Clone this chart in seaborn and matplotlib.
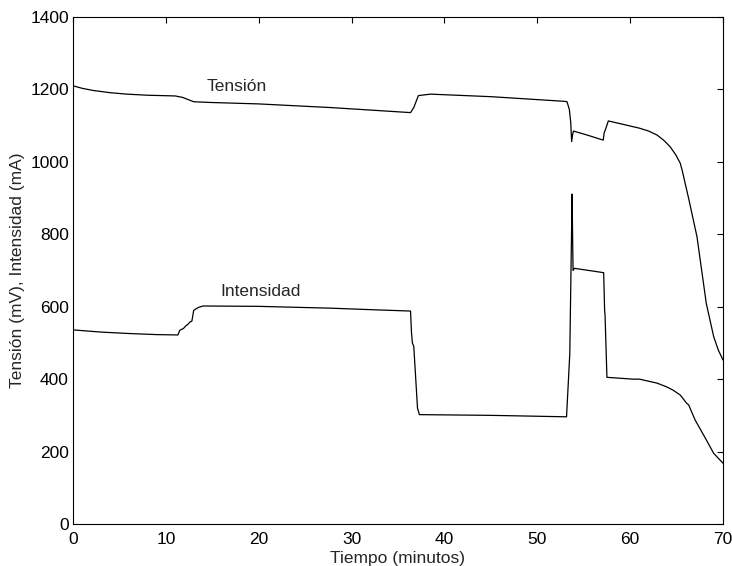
import numpy as np
import pandas as pd
import matplotlib
matplotlib.use("Agg")
import matplotlib.pyplot as plt
import seaborn as sns

# Tensión (mV) vs tiempo (min)
t_tension = [0, 1, 2.2, 4, 5.8, 8, 11.0, 11.8, 12.4, 13.0, 14.8, 20, 27.7, 36.35, 36.45,
             36.7, 37.0, 37.2, 38.5, 45, 53.0, 53.2, 53.45, 53.6, 53.7, 53.8, 53.9, 55.5,
             57.1, 57.2, 57.35, 57.65, 59, 61.0, 62.0, 62.9, 63.6, 64.3, 64.9, 65.4, 65.6,
             66.3, 67.2, 68.2, 69.0, 69.5, 70.0]
v_tension = [1210, 1203, 1197, 1191, 1187, 1184, 1182, 1178, 1172, 1166, 1164, 1160, 1150,
             1136, 1140, 1150, 1170, 1183, 1187, 1180, 1167, 1166, 1145, 1110, 1056, 1075,
             1085, 1073, 1060, 1080, 1090, 1113, 1105, 1093, 1085, 1074, 1060, 1042, 1020,
             996, 977, 899, 793, 609, 517, 480, 453]

# Intensidad (mA) vs tiempo (min)
t_intens = [0, 3, 6, 9, 11.3, 11.5, 11.9, 12.1, 12.4, 12.6, 12.8, 13.0, 13.5, 14.0, 20,
            27.7, 33, 36.35, 36.45, 36.55, 36.7, 37.1, 37.3, 45, 53.15, 53.5, 53.75, 53.8,
            53.85, 54.0, 57.15, 57.25, 57.3, 57.5, 60.3, 61.0, 62.9, 63.9, 64.6, 65.4, 66.1,
            66.3, 67.0, 67.2, 68.1, 69.0, 70.0]
i_intens = [536, 530, 526, 523, 522, 535, 540, 546, 552, 558, 560, 590, 598, 602, 601,
            596, 591, 588, 530, 500, 490, 320, 302, 300, 296, 470, 911, 800, 700, 706, 694,
            590, 575, 405, 400, 400, 389, 379, 370, 356, 333, 329, 287, 278, 237, 195, 168]

label_tension = "Tensión"
label_intens = "Intensidad"

sns.set_style("white")
plt.rcParams["font.family"] = ["Liberation Sans", "DejaVu Sans"]
FS = 12.5

df_t = pd.DataFrame({"t": t_tension, "v": v_tension})
df_i = pd.DataFrame({"t": t_intens, "v": i_intens})

fig = plt.figure(figsize=(7.32, 5.66), dpi=100)
ax = fig.add_axes([73 / 732, 42 / 566, 650 / 732, 507 / 566])

sns.lineplot(data=df_t, x="t", y="v", ax=ax, color="black", linewidth=0.9,
             sort=False, estimator=None)
sns.lineplot(data=df_i, x="t", y="v", ax=ax, color="black", linewidth=0.9,
             sort=False, estimator=None)

ax.set_xlim(0, 70)
ax.set_ylim(0, 1400)
ax.set_xticks(np.arange(0, 71, 10))
ax.set_yticks(np.arange(0, 1401, 200))
ax.tick_params(direction="in", length=4, width=0.8, top=True, right=True,
               labelsize=FS, colors="black")
ax.tick_params(axis="x", pad=6)
ax.tick_params(axis="y", pad=3)
for s in ax.spines.values():
    s.set_visible(True)
    s.set_color("black")
    s.set_linewidth(0.8)

ax.set_xlabel("Tiempo (minutos)", fontsize=FS, labelpad=3)
ax.set_ylabel("Tensión (mV), Intensidad (mA)", fontsize=FS, labelpad=4)

ax.text(14.4, 1207, label_tension, fontsize=FS, va="center", ha="left")
ax.text(15.9, 643, label_intens, fontsize=FS, va="center", ha="left")

fig.savefig("out.png", dpi=100)
